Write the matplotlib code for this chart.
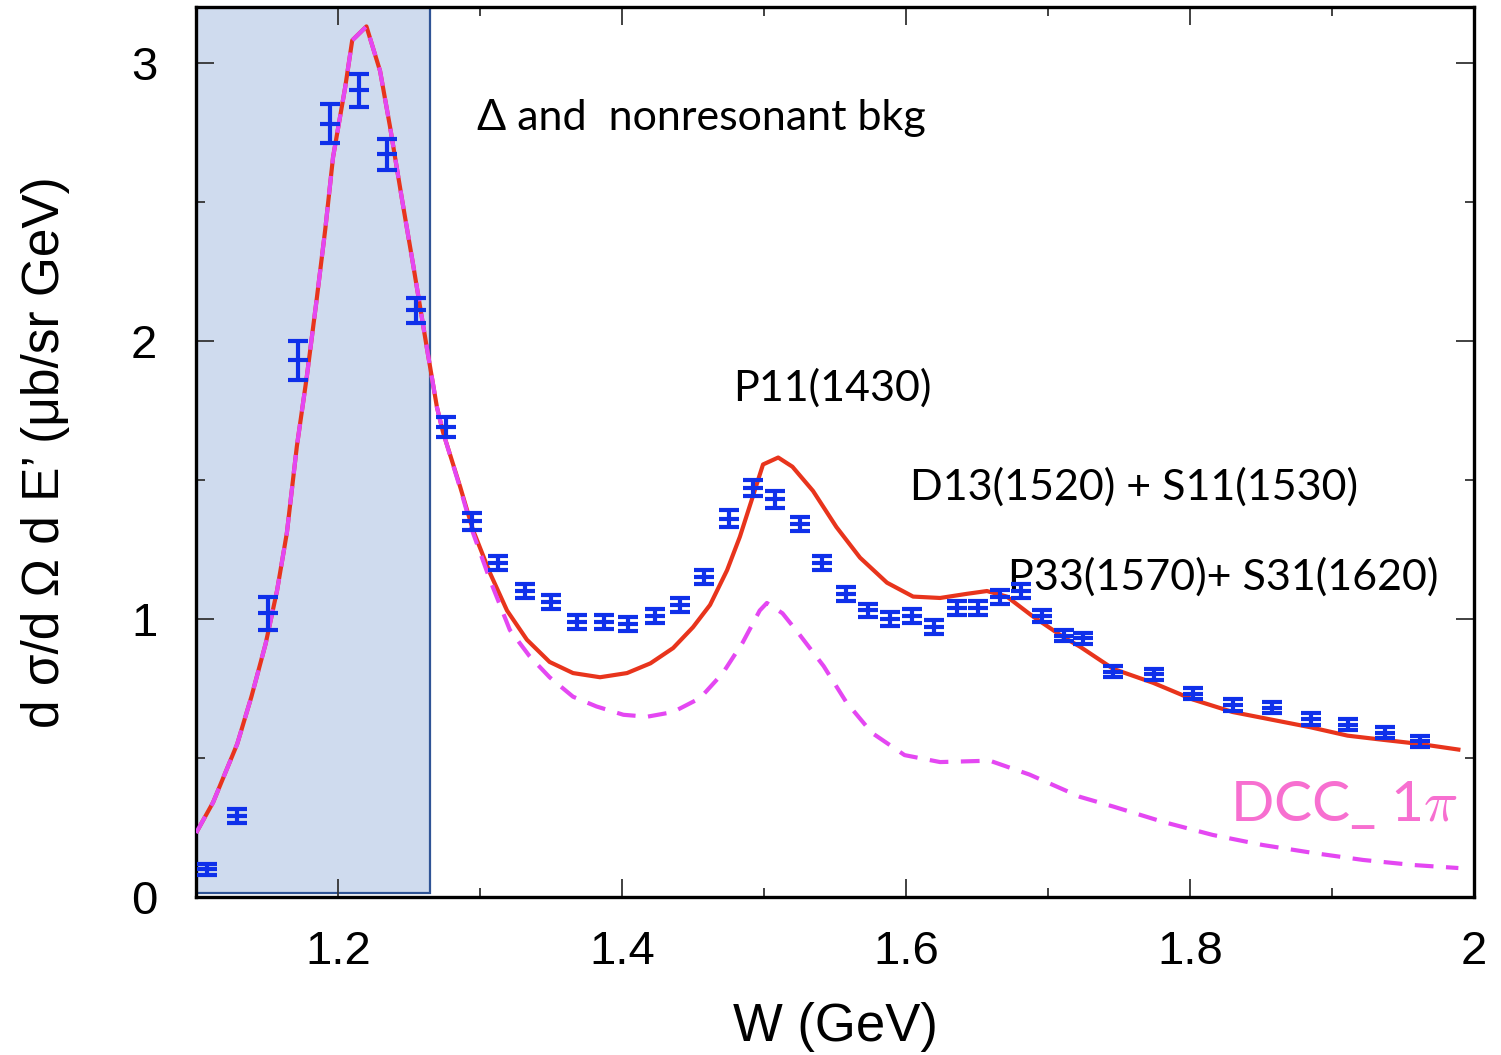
import matplotlib.pyplot as plt

# datos experimentales (W en GeV, seccion eficaz y error)
w_datos = [1.108, 1.129, 1.151, 1.172, 1.194, 1.215, 1.2345, 1.255, 1.276, 1.294,
           1.313, 1.332, 1.350, 1.368, 1.387, 1.404, 1.423, 1.441, 1.458, 1.475,
           1.492, 1.508, 1.525, 1.541, 1.558, 1.573, 1.589, 1.604, 1.620, 1.636,
           1.651, 1.666, 1.681, 1.696, 1.711, 1.725, 1.746, 1.775, 1.802, 1.830,
           1.858, 1.885, 1.911, 1.937, 1.962]
sigma_datos = [0.10, 0.29, 1.02, 1.93, 2.78, 2.90, 2.67, 2.11, 1.69, 1.35,
               1.20, 1.10, 1.06, 0.99, 0.99, 0.98, 1.01, 1.05, 1.15, 1.36,
               1.47, 1.43, 1.34, 1.20, 1.09, 1.03, 1.00, 1.01, 0.97, 1.04,
               1.04, 1.08, 1.10, 1.01, 0.94, 0.93, 0.81, 0.80, 0.73, 0.69,
               0.68, 0.64, 0.62, 0.59, 0.56]
err_datos = [0.02, 0.025, 0.06, 0.07, 0.07, 0.06, 0.055, 0.045, 0.035, 0.03,
             0.025, 0.025, 0.025, 0.025, 0.025, 0.025, 0.025, 0.025, 0.025, 0.03,
             0.03, 0.03, 0.025, 0.025, 0.025, 0.025, 0.025, 0.025, 0.025, 0.025,
             0.025, 0.025, 0.025, 0.02, 0.02, 0.02, 0.02, 0.02, 0.02, 0.02,
             0.02, 0.02, 0.02, 0.02, 0.02]

# modelo completo (linea roja)
w_total = [1.100, 1.112, 1.129, 1.139, 1.149, 1.157, 1.164, 1.171, 1.178, 1.185,
           1.191, 1.1965, 1.205, 1.210, 1.220, 1.2296, 1.2366, 1.245, 1.253, 1.2627,
           1.2697, 1.274, 1.286, 1.295, 1.307, 1.319, 1.333, 1.349, 1.3655, 1.3845,
           1.4035, 1.420, 1.436, 1.450, 1.462, 1.474, 1.483, 1.4915, 1.4993, 1.510,
           1.520, 1.5345, 1.551, 1.5676, 1.5866, 1.605, 1.624, 1.643, 1.657, 1.671,
           1.689, 1.7106, 1.7225, 1.746, 1.774, 1.802, 1.830, 1.858, 1.885, 1.911,
           1.936, 1.962, 1.989]
sigma_total = [0.23, 0.34, 0.55, 0.72, 0.91, 1.10, 1.31, 1.62, 1.87, 2.15,
               2.40, 2.66, 2.91, 3.08, 3.13, 2.97, 2.77, 2.51, 2.27, 1.97,
               1.76, 1.67, 1.475, 1.32, 1.165, 1.03, 0.925, 0.845, 0.805, 0.79,
               0.805, 0.84, 0.895, 0.97, 1.05, 1.175, 1.295, 1.43, 1.555, 1.58,
               1.547, 1.46, 1.33, 1.22, 1.13, 1.08, 1.075, 1.09, 1.10, 1.08,
               1.01, 0.935, 0.90, 0.82, 0.77, 0.71, 0.665, 0.637, 0.61, 0.58,
               0.565, 0.55, 0.53]

# DCC 1pi (linea discontinua)
w_dcc = [1.100, 1.112, 1.129, 1.139, 1.149, 1.157, 1.164, 1.171, 1.178, 1.185,
         1.191, 1.1965, 1.205, 1.210, 1.220, 1.2296, 1.2366, 1.245, 1.253, 1.2627,
         1.2697, 1.274, 1.286, 1.295, 1.307, 1.321, 1.335, 1.349, 1.3655, 1.382,
         1.401, 1.4176, 1.436, 1.455, 1.471, 1.485, 1.497, 1.502, 1.513, 1.524,
         1.542, 1.558, 1.576, 1.599, 1.624, 1.659, 1.687, 1.7225, 1.746, 1.781,
         1.816, 1.851, 1.887, 1.922, 1.957, 1.989]
sigma_dcc = [0.23, 0.34, 0.55, 0.72, 0.91, 1.10, 1.31, 1.62, 1.87, 2.15,
             2.40, 2.66, 2.91, 3.08, 3.13, 2.97, 2.77, 2.51, 2.27, 1.97,
             1.76, 1.67, 1.47, 1.31, 1.14, 0.96, 0.865, 0.79, 0.72, 0.685,
             0.655, 0.648, 0.665, 0.715, 0.805, 0.915, 1.03, 1.057, 1.02, 0.95,
             0.83, 0.70, 0.59, 0.51, 0.485, 0.49, 0.44, 0.36, 0.325, 0.27,
             0.223, 0.187, 0.158, 0.133, 0.115, 0.104]

fuente = ['Lato', 'DejaVu Sans']
plt.rcParams['font.family'] = ['Liberation Sans', 'DejaVu Sans']
plt.rcParams['mathtext.fontset'] = 'cm'

fig = plt.figure(figsize=(15.01, 10.55), dpi=100)
ax = fig.add_axes([0.1306, 0.1498, 0.8514, 0.8436])

# zona del Delta
ax.axvspan(1.1, 1.265, ymin=0.004, ymax=1.0, facecolor='#cfdbee',
           edgecolor='#2f5496', linewidth=1.6, zorder=0)

ax.plot(w_total, sigma_total, color='#e8341c', linewidth=3.0, zorder=2)
ax.plot(w_dcc, sigma_dcc, color='#e447f2', linewidth=3.0, dashes=(4.5, 3), zorder=3)
ax.errorbar(w_datos, sigma_datos, yerr=err_datos, fmt='_', color='#0f30ea',
            markersize=15, markeredgewidth=3.0, elinewidth=3.0, capsize=7.5,
            capthick=3.0, zorder=4)

ax.set_xlim(1.1, 2.0)
ax.set_ylim(0, 3.2)
ax.set_xticks([1.2, 1.4, 1.6, 1.8, 2.0])
ax.set_xticklabels(['1.2', '1.4', '1.6', '1.8', '2'])
ax.set_xticks([1.3, 1.5, 1.7, 1.9], minor=True)
ax.set_yticks([0, 1, 2, 3])
ax.set_yticks([0.5, 1.5, 2.5], minor=True)
ax.tick_params(which='both', direction='in', top=True, right=True,
               color='#333333', width=1.3)
ax.tick_params(which='major', length=13, labelsize=34, pad=24)
ax.tick_params(which='minor', length=6.5)
ax.tick_params(axis='y', which='major', pad=28)
for lado in ax.spines.values():
    lado.set_linewidth(2.4)

ax.set_xlabel('W (GeV)', fontsize=38, labelpad=20)
ax.set_ylabel('d σ/d Ω d E’ (μb/sr GeV)', fontsize=37, labelpad=44)

ax.text(1.298, 2.80, 'Δ and  nonresonant bkg', fontsize=31, family=fuente, va='center')
ax.text(1.478, 1.83, 'P11(1430)', fontsize=31, family=fuente, va='center')
ax.text(1.603, 1.475, 'D13(1520) + S11(1530)', fontsize=31, family=fuente, va='center')
ax.text(1.672, 1.15, 'P33(1570)+ S31(1620)', fontsize=31, family=fuente, va='center')
ax.text(1.828, 0.33, r'DCC_ 1$\pi$', fontsize=41, family=fuente, color='#f76fd0',
        va='center')

fig.savefig('out.png', dpi=100)
